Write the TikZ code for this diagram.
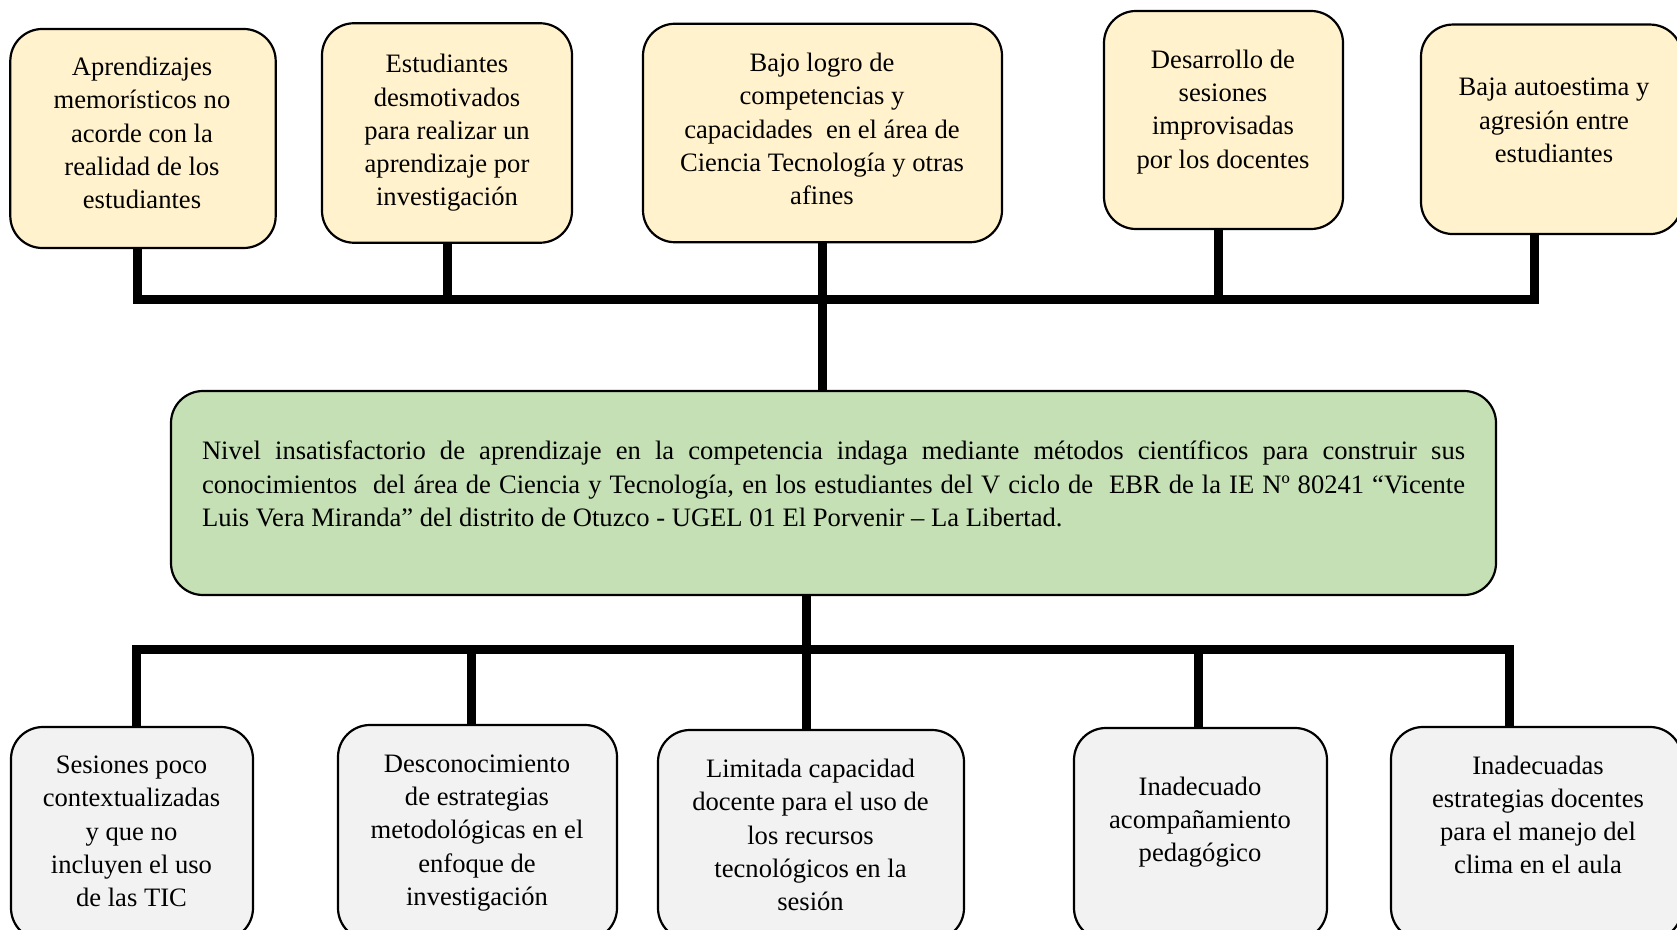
\documentclass[tikz,border=0pt]{standalone}
\usepackage{fontspec}
\setmainfont{Liberation Serif}
\definecolor{topfill}{HTML}{FFF2CC}
\definecolor{midfill}{HTML}{C5E0B4}
\definecolor{botfill}{HTML}{F2F2F2}
\begin{document}
\begin{tikzpicture}[x=0.5pt,y=-0.5pt,
  card/.style={draw=black, line width=1.1pt, rounded corners=16pt, inner sep=0pt},
  topcard/.style={card, fill=topfill},
  midcard/.style={card, fill=midfill},
  botcard/.style={card, fill=botfill},
  txt/.style={inner sep=0pt, align=center, font=\fontsize{13.3}{16.6}\selectfont},
  conn/.style={draw=black, line width=4.5pt, line join=miter}]
\useasboundingbox (0,0) rectangle (1677,930);
\clip (0,0) rectangle (1677,930);
% top boxes
\node[topcard, minimum width=132.7pt, minimum height=109.5pt] (t1) at (143,138.5) {};
\node[topcard, minimum width=125pt, minimum height=109.75pt] (t2) at (447,133) {};
\node[topcard, minimum width=179.5pt, minimum height=109.25pt] (t3) at (822.5,133) {};
\node[topcard, minimum width=119.5pt, minimum height=109pt] (t4) at (1223.5,120) {};
\node[topcard, minimum width=130.5pt, minimum height=104.75pt] (t5) at (1551.5,129.3) {};
\node[txt] (t1txt) at (142,133) {Aprendizajes\\memorísticos no\\acorde con la\\realidad de los\\estudiantes};
\node[txt] (t2txt) at (447,133) {Estudiantes\\desmotivados\\para realizar un\\aprendizaje por\\investigación};
\node[txt] (t3txt) at (822,129) {Bajo logro de\\competencias y\\capacidades\ \ en el área de\\Ciencia Tecnología y otras\\afines};
\node[txt] (t4txt) at (1223,112) {Desarrollo de\\sesiones\\improvisadas\\por los docentes};
\node[txt] (t5txt) at (1554,120.5) {Baja autoestima y\\agresión entre\\estudiantes};
% central box
\node[midcard, minimum width=662.5pt, minimum height=102pt] (c) at (833.5,493) {};
\node[txt, align=justify, text width=631.5pt] (ctxt) at (833.5,484) {Nivel insatisfactorio de aprendizaje en la competencia indaga mediante métodos científicos para construir sus\linebreak conocimientos\ \ del área de Ciencia y Tecnología, en los estudiantes del V ciclo de\ \ EBR de la IE Nº 80241 “Vicente\linebreak Luis Vera Miranda” del distrito de Otuzco - UGEL 01 El Porvenir – La Libertad.};
% bottom boxes
\node[botcard, minimum width=121pt, minimum height=106.5pt] (b1) at (132,833.5) {};
\node[botcard, minimum width=139.5pt, minimum height=107.5pt] (b2) at (477.5,832.5) {};
\node[botcard, minimum width=153pt, minimum height=105pt] (b3) at (811,835) {};
\node[botcard, minimum width=126.5pt, minimum height=106pt] (b4) at (1200.5,834) {};
\node[botcard, minimum width=145.5pt, minimum height=106.5pt] (b5) at (1536.5,833.5) {};
\node[txt] (b1txt) at (131.5,831.5) {Sesiones poco\\contextualizadas\\y que no\\incluyen el uso\\de las TIC};
\node[txt] (b2txt) at (477,833) {Desconocimiento\\de estrategias\\metodológicas en el\\enfoque de\\investigación};
\node[txt] (b3txt) at (810.5,835) {Limitada capacidad\\docente para el uso de\\los recursos\\tecnológicos en la\\sesión};
\node[txt] (b4txt) at (1200,822) {Inadecuado\\acompañamiento\\pedagógico};
\node[txt] (b5txt) at (1538,815) {Inadecuadas\\estrategias docentes\\para el manejo del\\clima en el aula};
% connector levels
\coordinate (topbar) at (822,300);
\coordinate (botbar) at (806.5,649);
% top connectors
\draw[conn] ([xshift=-3pt]t1.south) |- ([xshift=-8.5pt]t5.south |- topbar) -- ([xshift=-8.5pt]t5.south);
\draw[conn] (t2.south) -- (t2.south |- topbar);
\draw[conn] ([xshift=-2.5pt]t4.south) -- ([xshift=-2.5pt]t4.south |- topbar);
\draw[conn] (t3.south) -- (t3.south |- c.north);
% bottom connectors
\draw[conn] (botbar |- c.south) -- (botbar |- b3.north);
\draw[conn] ([xshift=2pt]b1.north) |- ([xshift=-13.5pt]b5.north |- botbar) -- ([xshift=-13.5pt]b5.north);
\draw[conn] ([xshift=-3pt]b2.north) -- ([xshift=-3pt]b2.north |- botbar);
\draw[conn] ([xshift=-1pt]b4.north) -- ([xshift=-1pt]b4.north |- botbar);
\end{tikzpicture}
\end{document}
